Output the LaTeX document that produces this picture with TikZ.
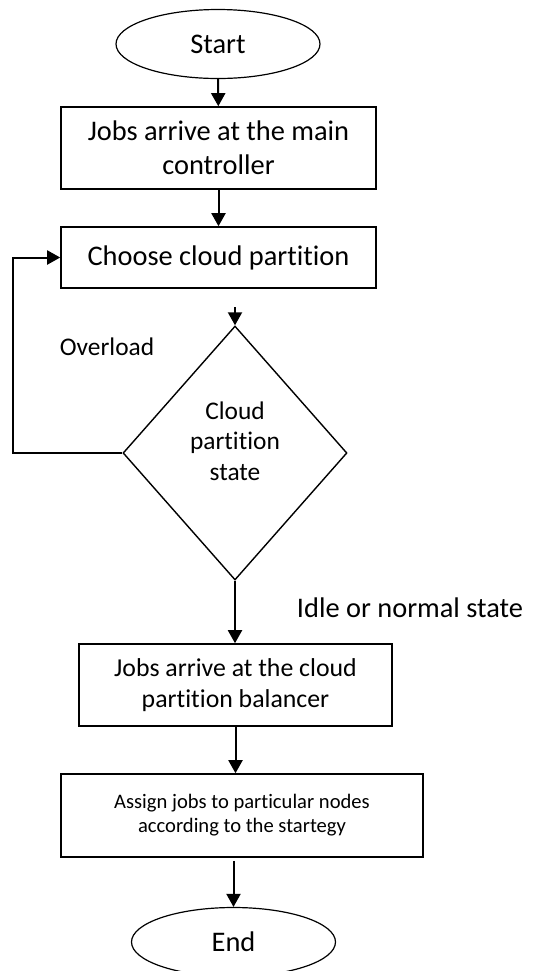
\documentclass[tikz,border=0pt]{standalone}
\usepackage{fontspec}
\setmainfont{Carlito}[Ligatures=NoCommon]
\usetikzlibrary{arrows.meta,shapes.geometric}

\begin{document}
\begin{tikzpicture}[x=0.5pt, y=-0.5pt, >={Triangle[length=6.5pt,width=7pt]},
	every node/.style={inner sep=0pt, align=center, font=\fontsize{14.2}{17}\selectfont},
	terminal/.style={draw, ellipse, line width=0.6pt, minimum width=102pt, minimum height=34.5pt},
	process/.style={draw, rectangle, line width=0.8pt},
	decision/.style={draw, diamond, line width=0.7pt, minimum width=112pt, minimum height=127pt},
	flow/.style={->, line width=1pt}]
	\useasboundingbox (0,0) rectangle (536,971);
	\node[terminal] (start) at (218,44) {Start};
	\node[process, minimum width=157.5pt, minimum height=41pt] (arrive) at (218.5,148) {Jobs arrive at the main\\controller};
	\node[process, minimum width=157.5pt, minimum height=30.5pt] (choose) at (218.5,257.5) {Choose cloud partition};
	\node[decision] (state) at (235,453) {};
	\node[font=\fontsize{12.7}{15.3}\selectfont] (statetext) at (235,441) {Cloud\\partition\\state};
	\node[process, minimum width=156.5pt, minimum height=41pt, font=\fontsize{12.9}{15.5}\selectfont] (balancer) at (235.5,685) {Jobs arrive at the cloud\\partition balancer};
	\node[process, minimum width=181pt, minimum height=41.5pt, font=\fontsize{10.3}{12}\selectfont] (assign) at (242,815.5) {Assign jobs to particular nodes\\according to the startegy};
	\node[terminal] (finish) at (233.5,942) {End};
	\node[font=\fontsize{12.7}{15.3}\selectfont] (overload) at (107,347) {Overload};
	\node (idle) at (410,608) {Idle or normal state};
	\coordinate (gap) at (235,307);
	\draw[flow] (start) -- (arrive);
	\draw[flow] (arrive) -- (choose);
	\draw[flow] (gap) -- (state.north);
	\draw[flow] (state.west) -- ++(-109,0) |- (choose.west);
	\draw[flow] (state.south) -- (state.south |- balancer.north);
	\draw[flow] (balancer.south) -- (balancer.south |- assign.north);
	\draw[flow] ([yshift=-1.5pt]assign.south -| finish.north) -- (finish.north);
\end{tikzpicture}
\end{document}
